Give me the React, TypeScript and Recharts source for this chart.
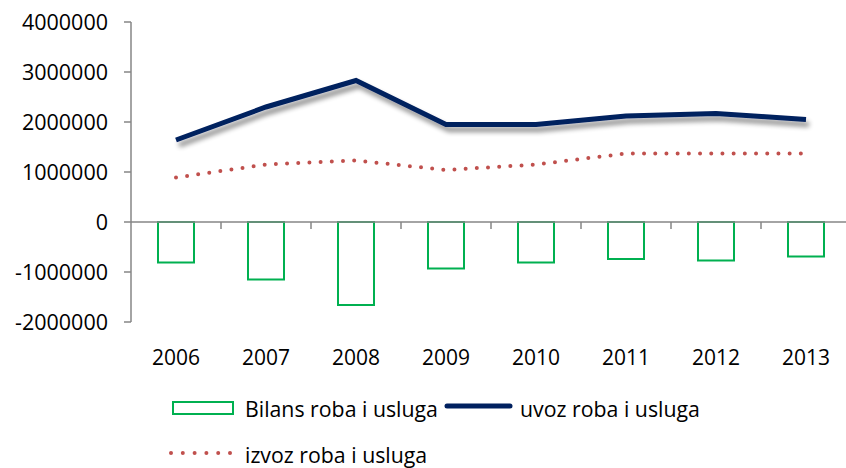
import React from 'react';
import { ComposedChart, Bar, Line, XAxis, YAxis, ReferenceLine, Legend } from 'recharts';

const years = ['2006', '2007', '2008', '2009', '2010', '2011', '2012', '2013'];
const bilans = [-810000, -1150000, -1660000, -930000, -810000, -740000, -770000, -690000];
const uvoz = [1640000, 2300000, 2830000, 1950000, 1950000, 2120000, 2170000, 2050000];
const izvoz = [890000, 1150000, 1230000, 1040000, 1150000, 1370000, 1370000, 1370000];
const yTicks = [-2000000, -1000000, 0, 1000000, 2000000, 3000000, 4000000];
const seriesNames = ['Bilans roba i usluga', 'uvoz roba i usluga', 'izvoz roba i usluga'];

const data = years.map((y, i) => ({ year: y, bilans: bilans[i], uvoz: uvoz[i], izvoz: izvoz[i] }));

const GREEN = '#00B050';
const NAVY = '#00205F';
const RED = '#C0504D';
const AXIS = '#868686';
const FONT = '"Open Sans", "Liberation Sans", sans-serif';

const ZeroLine = (props: any) => {
  const { x1, x2, y1 } = props;
  const n = years.length;
  const step = (x2 - x1) / n;
  const ticks = [];
  for (let i = 1; i <= n; i++) {
    const x = x1 + step * i;
    ticks.push(<line key={i} x1={x} x2={x} y1={y1} y2={y1 + 7} stroke={AXIS} strokeWidth={1.5} />);
  }
  return (
    <g>
      <line x1={x1} x2={x2} y1={y1} y2={y1} stroke={AXIS} strokeWidth={1.5} />
      {ticks}
    </g>
  );
};

const LegendText = ({ x, y, children }: any) => (
  <text x={x} y={y} fontFamily={FONT} fontSize={21.3} fill="#000">{children}</text>
);

const renderLegend = () => {
  const dots = [];
  for (let i = 0; i < 6; i++) {
    dots.push(<circle key={i} cx={171 + i * 11.8} cy={81} r={2} fill={RED} />);
  }
  return (
    <div style={{ width: 846, height: 96 }}>
      <svg width={846} height={96}>
        <rect x={173} y={30} width={60} height={12} fill="#fff" stroke={GREEN} strokeWidth={2} />
        <LegendText x={245} y={45}>{seriesNames[0]}</LegendText>
        <line x1={447} x2={510} y1={34} y2={34} stroke={NAVY} strokeWidth={5} strokeLinecap="round" />
        <LegendText x={520} y={45}>{seriesNames[1]}</LegendText>
        {dots}
        <LegendText x={245} y={91}>{seriesNames[2]}</LegendText>
      </svg>
    </div>
  );
};

export default function App() {
  return (
    <div style={{ position: 'fixed', left: 0, top: 0, width: 846, height: 468, overflow: 'hidden', background: '#fff' }}>
      <svg width={0} height={0} style={{ position: 'absolute' }}>
        <defs>
          <filter id="navyShadow" x="-10%" y="-60%" width="130%" height="260%">
            <feGaussianBlur in="SourceAlpha" stdDeviation="2.5" result="blur" />
            <feOffset in="blur" dx="3" dy="5" result="off" />
            <feComponentTransfer in="off" result="shadow">
              <feFuncA type="linear" slope="0.45" />
            </feComponentTransfer>
            <feMerge>
              <feMergeNode in="shadow" />
              <feMergeNode in="SourceGraphic" />
            </feMerge>
          </filter>
        </defs>
      </svg>
      <style>{'path.recharts-curve[stroke="#00205F"]{filter:url(#navyShadow);}'}</style>
      <ComposedChart width={860} height={468} data={data} margin={{ top: 22, right: 9, bottom: 0, left: 0 }}>
        <XAxis
          dataKey="year"
          axisLine={false}
          tickLine={false}
          tickSize={0}
          tickMargin={28}
          height={50}
          interval={0}
          tick={{ fontFamily: FONT, fontSize: 21, fill: '#000' }}
        />
        <YAxis
          domain={[-2000000, 4000000]}
          ticks={yTicks}
          width={131}
          interval={0}
          axisLine={{ stroke: AXIS, strokeWidth: 1.5 }}
          tickLine={{ stroke: AXIS, strokeWidth: 1.5 }}
          tickSize={7}
          tickMargin={16}
          tick={{ fontFamily: FONT, fontSize: 21.5, fill: '#000' }}
        />
        <Bar dataKey="bilans" name={seriesNames[0]} barSize={36} fill="#fff" stroke={GREEN} strokeWidth={2} isAnimationActive={false} />
        <ReferenceLine y={0} shape={ZeroLine} />
        <Line
          type="linear"
          dataKey="izvoz"
          name={seriesNames[2]}
          stroke={RED}
          strokeWidth={4}
          strokeDasharray="0 11.2"
          strokeLinecap="round"
          dot={false}
          activeDot={false}
          isAnimationActive={false}
        />
        <Line
          type="linear"
          dataKey="uvoz"
          name={seriesNames[1]}
          className="uvoz-line"
          stroke={NAVY}
          strokeWidth={5}
          dot={false}
          activeDot={false}
          isAnimationActive={false}
        />
        <Legend verticalAlign="bottom" content={renderLegend} wrapperStyle={{ left: 0, width: 846, height: 96 }} />
      </ComposedChart>
    </div>
  );
}
